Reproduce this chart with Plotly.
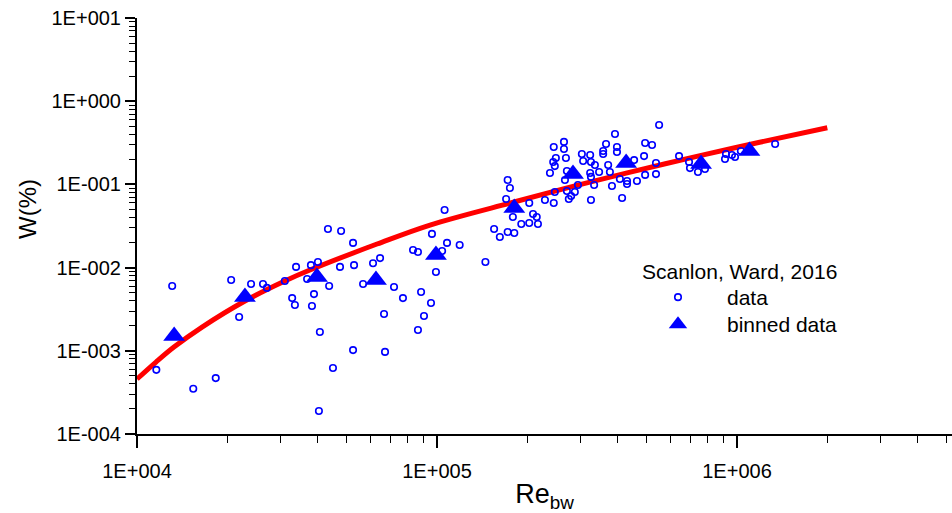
import plotly.graph_objects as go

# Individual whitecap-coverage measurements (Re_bw, W in %)
re_data = [
    1.16e4, 1.31e4, 1.54e4, 1.83e4, 2.06e4, 2.19e4, 2.40e4, 2.63e4, 2.71e4, 3.11e4,
    3.29e4, 3.36e4, 3.39e4, 3.69e4, 3.80e4, 3.83e4, 3.89e4, 4.01e4, 4.07e4, 4.04e4,
    4.37e4, 4.33e4, 4.50e4, 4.79e4, 4.75e4, 5.25e4, 5.29e4, 5.25e4, 5.67e4, 6.12e4,
    6.46e4, 6.66e4, 6.71e4, 7.19e4, 7.70e4, 8.32e4, 8.64e4, 8.85e4, 8.64e4, 9.05e4,
    9.55e4, 9.62e4, 1.06e5, 1.08e5, 1.04e5, 9.92e4, 1.19e5, 1.45e5, 1.55e5, 1.62e5,
    1.72e5, 1.81e5, 1.72e5, 1.75e5, 1.70e5, 1.79e5, 1.91e5, 2.03e5, 2.03e5, 2.09e5,
    2.15e5, 2.17e5, 2.29e5, 2.45e5, 2.38e5, 2.44e5, 2.47e5, 2.45e5, 2.49e5, 2.65e5,
    2.65e5, 2.69e5, 2.71e5, 2.67e5, 2.71e5, 2.75e5, 2.80e5, 2.88e5, 2.95e5, 3.04e5,
    3.07e5, 3.24e5, 3.26e5, 3.36e5, 3.24e5, 3.26e5, 3.34e5, 3.26e5, 3.47e5, 3.58e5,
    3.58e5, 3.66e5, 3.72e5, 3.77e5, 3.83e5, 3.92e5, 3.98e5, 3.98e5, 4.07e5, 4.14e5,
    4.30e5, 4.30e5, 4.54e5, 4.64e5, 4.90e5, 4.94e5, 4.94e5, 5.21e5, 5.37e5, 5.37e5,
    5.50e5, 6.41e5, 6.92e5, 6.97e5, 7.41e5, 7.82e5, 9.12e5, 9.19e5, 9.62e5, 9.85e5,
    1.03e6, 1.34e6, 2.47e5,
]
w_data = [
    5.9e-4, 6.0e-3, 3.5e-4, 4.7e-4, 7.1e-3, 2.55e-3, 6.35e-3, 6.35e-3, 5.7e-3, 6.9e-3,
    4.3e-3, 3.55e-3, 1.02e-2, 7.3e-3, 1.07e-2, 3.45e-3, 4.8e-3, 1.17e-2, 1.68e-3, 1.89e-4,
    6.0e-3, 2.91e-2, 6.2e-4, 2.75e-2, 1.02e-2, 1.98e-2, 1.07e-2, 1.02e-3, 6.35e-3, 1.13e-2,
    1.30e-2, 2.77e-3, 9.7e-4, 5.85e-3, 4.3e-3, 1.63e-2, 1.54e-2, 5.1e-3, 1.78e-3, 2.62e-3,
    3.76e-3, 2.54e-2, 4.92e-2, 1.98e-2, 1.58e-2, 8.85e-3, 1.87e-2, 1.17e-2, 2.91e-2, 2.33e-2,
    2.68e-2, 2.61e-2, 0.113, 9.05e-2, 6.68e-2, 4.06e-2, 3.34e-2, 5.97e-2, 3.44e-2, 4.41e-2,
    4.06e-2, 3.34e-2, 6.49e-2, 5.97e-2, 0.137, 0.186, 0.166, 0.282, 0.2075, 0.324,
    0.266, 0.2075, 0.145, 0.113, 8.34e-2, 6.68e-2, 7.26e-2, 8.11e-2, 9.84e-2, 0.232,
    0.191, 0.2255, 0.186, 0.171, 0.137, 0.123, 9.84e-2, 6.49e-2, 0.141, 0.252,
    0.232, 0.306, 0.171, 0.141, 9.57e-2, 0.404, 0.282, 0.245, 0.116, 6.87e-2,
    0.110, 0.101, 0.196, 0.110, 0.219, 0.315, 0.130, 0.298, 0.181, 0.133,
    0.518, 0.219, 0.186, 0.157, 0.141, 0.153, 0.202, 0.232, 0.2255, 0.2135,
    0.252, 0.306, 8.11e-2,
]

# Bin-averaged values
re_binned = [1.33e4, 2.29e4, 3.98e4, 6.26e4, 9.92e4, 1.81e5, 2.84e5, 4.27e5, 7.59e5, 1.10e6]
w_binned = [1.51e-3, 4.43e-3, 7.71e-3, 7.10e-3, 1.42e-2, 5.20e-2, 0.133, 0.181, 0.176, 0.252]

# Fitted relation W(Re_bw), sampled along the curve
re_fit = [1.0e4, 1.157e4, 1.328e4, 1.648e4, 2.29e4, 3.11e4, 3.77e4, 6.31e4, 9.48e4,
          1.806e5, 2.84e5, 4.27e5, 7.53e5, 1.19e6, 2.0e6]
w_fit = [4.58e-4, 7.33e-4, 1.11e-3, 1.93e-3, 3.97e-3, 6.9e-3, 9.35e-3, 1.92e-2, 3.25e-2,
         6.14e-2, 9.46e-2, 0.1365, 0.222, 0.321, 0.48]

x_tick_vals = [1e4, 1e5, 1e6]
x_tick_text = ["1E+004", "1E+005", "1E+006"]
y_tick_vals = [1e1, 1e0, 1e-1, 1e-2, 1e-3, 1e-4]
y_tick_text = ["1E+001", "1E+000", "1E-001", "1E-002", "1E-003", "1E-004"]

FONT = "Arial, 'Liberation Sans', sans-serif"
BLUE = "#0000FF"
RED = "#FF0000"

# plot area in pixels (used to place legend / annotations in paper units)
PX_L, PX_R, PX_T, PX_B = 137, 952, 18, 434


def px_x(px):
    return (px - PX_L) / (PX_R - PX_L)


def px_y(py):
    return (PX_B - py) / (PX_B - PX_T)


fig = go.Figure()

fig.add_trace(go.Scatter(
    x=re_fit, y=w_fit, mode="lines", line=dict(color=RED, width=5, shape="spline"),
    showlegend=False, hoverinfo="skip",
))
fig.add_trace(go.Scatter(
    x=re_data, y=w_data, mode="markers", name="data", legend="legend",
    marker=dict(symbol="circle-open", size=6.5, color=BLUE, line=dict(color=BLUE, width=1.6)),
))
fig.add_trace(go.Scatter(
    x=re_binned, y=w_binned, mode="markers", name="binned data", legend="legend2",
    marker=dict(symbol="triangle-up", size=19, color=BLUE, line=dict(width=0)),
))

axis_common = dict(
    type="log", showgrid=False, zeroline=False, showline=True, linecolor="black", linewidth=2,
    ticks="outside", tickcolor="black", tickwidth=1.5, mirror=False,
    tickfont=dict(family=FONT, size=20, color="black"), automargin=False,
)

fig.update_xaxes(
    **axis_common, range=[4, 4 + (PX_R - PX_L) / 300], tickmode="array",
    tickvals=x_tick_vals, ticktext=x_tick_text, ticklen=12, ticklabelstandoff=6,
    minor=dict(ticks="outside", ticklen=7, tickcolor="black", tickwidth=1.2, dtick="D1"),
    title=dict(text="Re<sub>bw</sub>", font=dict(family=FONT, size=27, color="black"), standoff=8),
)
fig.update_yaxes(
    **axis_common, range=[-4, 1], tickmode="array",
    tickvals=y_tick_vals, ticktext=y_tick_text, ticklen=10,
    minor=dict(ticks="outside", ticklen=6, tickcolor="black", tickwidth=1.2, dtick="D1"),
)

fig.add_annotation(
    text="W(%)", textangle=-90, xref="paper", yref="paper",
    x=px_x(27), y=px_y(209), xanchor="center", yanchor="middle",
    showarrow=False, font=dict(family=FONT, size=24, color="black"),
)
fig.add_annotation(
    text="Scanlon, Ward, 2016", xref="paper", yref="paper",
    x=px_x(640), y=px_y(271), xanchor="left", yanchor="middle",
    showarrow=False, font=dict(family=FONT, size=21, color="black"),
)

legend_style = dict(
    xanchor="left", yanchor="top", bgcolor="rgba(0,0,0,0)", borderwidth=0, itemwidth=88,
    font=dict(family=FONT, size=21, color="black"),
)

fig.update_layout(
    width=952, height=513,
    margin=dict(l=PX_L, r=952 - PX_R, t=PX_T, b=513 - PX_B, autoexpand=False),
    paper_bgcolor="white", plot_bgcolor="white",
    font=dict(family=FONT, color="black"),
    legend=dict(x=px_x(629), y=px_y(277), **legend_style),
    legend2=dict(x=px_x(629), y=px_y(304), **legend_style),
)

fig.write_html("out.html")
